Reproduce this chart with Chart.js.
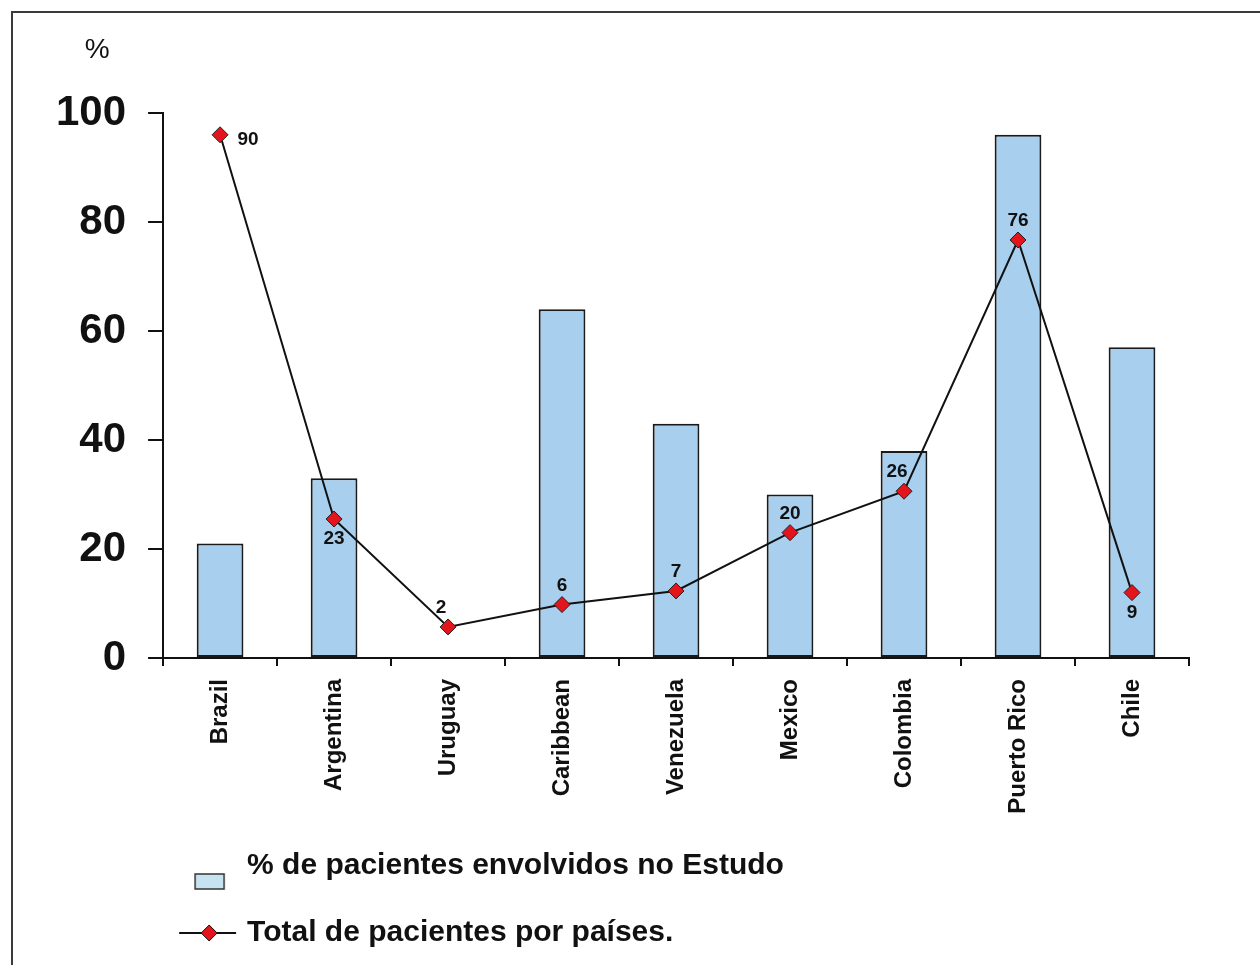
<!DOCTYPE html>
<html lang="pt">
<head>
<meta charset="utf-8">
<title>Pacientes por países</title>
<script src="https://cdn.jsdelivr.net/npm/chart.js@4.4.1/dist/chart.umd.min.js"></script>
<style>
  html, body { margin: 0; padding: 0; background: #fff; overflow: hidden; }
  #marco { position: absolute; left: 11px; top: 11px; width: 1400px; height: 1100px;
           border-top: 2px solid #3a3a3a; border-left: 2px solid #3a3a3a; }
  #grafico { position: absolute; left: 0; top: 0; }
</style>
</head>
<body>
<div id="marco"></div>
<canvas id="grafico" width="1260" height="965"></canvas>
<script>
// Datos del gráfico
const paises = ['Brazil', 'Argentina', 'Uruguay', 'Caribbean', 'Venezuela', 'Mexico', 'Colombia', 'Puerto Rico', 'Chile'];
// % de pacientes envolvidos no Estudo (barras)
const pctPacientes = [21, 33, 0, 64, 43, 30, 38, 96, 57];
// Total de pacientes por países (línea): altura del punto y número que se escribe
const totalPacientes = [96, 25.5, 5.7, 9.8, 12.3, 23, 30.6, 76.7, 12];
const totalEtiquetas = ['90', '23', '2', '6', '7', '20', '26', '76', '9'];
const ticksY = [0, 20, 40, 60, 80, 100];

const leyendaBarras = '% de pacientes envolvidos no Estudo';
const leyendaLinea = 'Total de pacientes por países.';

// Dónde va cada número respecto a su punto
const posEtiquetas = ['derecha', 'abajo', 'arribaIzq', 'arriba', 'arriba', 'arriba', 'arribaIzq', 'arriba', 'abajo'];
const desplazamientos = {
    derecha: [28, 5],
    abajo: [0, 20],
    arriba: [0, -19],
    arribaIzq: [-7, -19]
};

const fuente = '"Liberation Sans", Arial, Helvetica, sans-serif';
const colorTexto = '#111';
const colorBarra = '#a8cfee';
const colorRombo = '#e3141b';

// Imágenes pequeñas para la leyenda (cuadro celeste y línea con rombo)
function crearCuadro() {
    const c = document.createElement('canvas');
    c.width = 80; c.height = 64;
    const g = c.getContext('2d');
    g.fillStyle = '#c6e4f0';
    g.strokeStyle = '#333';
    g.lineWidth = 1.5;
    g.fillRect(19, 40, 29, 15);
    g.strokeRect(19, 40, 29, 15);
    return c;
}

function crearLinea() {
    const c = document.createElement('canvas');
    c.width = 80; c.height = 64;
    const g = c.getContext('2d');
    g.strokeStyle = '#111';
    g.lineWidth = 2;
    g.beginPath();
    g.moveTo(3, 32);
    g.lineTo(60, 32);
    g.stroke();
    g.fillStyle = colorRombo;
    g.lineWidth = 1;
    g.beginPath();
    g.moveTo(25, 32); g.lineTo(33, 24); g.lineTo(41, 32); g.lineTo(33, 40);
    g.closePath();
    g.fill();
    g.stroke();
    return c;
}

// Plugin: números sobre los puntos y el "%" del eje
const etiquetasPlugin = {
    id: 'etiquetas',
    afterDatasetsDraw(chart) {
        const ctx = chart.ctx;
        const meta = chart.getDatasetMeta(1);
        ctx.save();
        ctx.fillStyle = colorTexto;
        ctx.textAlign = 'center';
        ctx.textBaseline = 'middle';
        ctx.font = 'bold 19px ' + fuente;
        meta.data.forEach((punto, i) => {
            const d = desplazamientos[posEtiquetas[i]];
            ctx.fillText(totalEtiquetas[i], punto.x + d[0], punto.y + d[1]);
        });
        const area = chart.chartArea;
        ctx.font = '28px ' + fuente;
        ctx.fillText('%', area.left - 66, area.top - 63);
        ctx.restore();
    }
};

const imgCuadro = crearCuadro();
const imgLinea = crearLinea();

new Chart(document.getElementById('grafico'), {
    type: 'bar',
    data: {
        labels: paises,
        datasets: [{
            type: 'bar',
            label: leyendaBarras,
            data: pctPacientes,
            backgroundColor: colorBarra,
            borderColor: '#1a1a1a',
            borderWidth: 2,
            borderSkipped: false,
            barPercentage: 0.41,
            categoryPercentage: 1,
            order: 1
        }, {
            type: 'line',
            label: leyendaLinea,
            data: totalPacientes,
            borderColor: '#111',
            borderWidth: 2,
            tension: 0,
            pointStyle: 'rectRot',
            pointRadius: 8,
            pointBackgroundColor: colorRombo,
            pointBorderColor: '#222',
            pointBorderWidth: 1,
            order: 0
        }]
    },
    options: {
        responsive: false,
        animation: false,
        layout: { padding: { top: 113, left: 34, right: 71, bottom: 7 } },
        plugins: {
            tooltip: { enabled: false },
            legend: {
                position: 'bottom',
                align: 'start',
                fullSize: false,
                labels: {
                    usePointStyle: true,
                    pointStyleWidth: 32,
                    padding: 37,
                    color: colorTexto,
                    font: { family: fuente, size: 30, weight: 'bold' },
                    generateLabels: () => [
                        { text: leyendaBarras, pointStyle: imgCuadro, datasetIndex: 0, hidden: false, lineWidth: 0, fontColor: colorTexto },
                        { text: leyendaLinea, pointStyle: imgLinea, datasetIndex: 1, hidden: false, lineWidth: 0, fontColor: colorTexto }
                    ]
                }
            }
        },
        scales: {
            x: {
                offset: true,
                grid: { offset: true, drawOnChartArea: false, tickLength: 8, color: '#111', lineWidth: 2 },
                border: { color: '#111', width: 2 },
                ticks: {
                    autoSkip: false,
                    minRotation: 90,
                    maxRotation: 90,
                    padding: 13,
                    color: colorTexto,
                    font: { family: fuente, size: 24, weight: 'bold' }
                },
                afterFit: (escala) => { escala.height = 156; }
            },
            y: {
                min: 0,
                max: 100,
                afterBuildTicks: (escala) => { escala.ticks = ticksY.map(v => ({ value: v })); },
                grid: { drawOnChartArea: false, tickLength: 15, color: '#111', lineWidth: 2 },
                border: { color: '#111', width: 2 },
                ticks: {
                    padding: 22,
                    color: colorTexto,
                    font: { family: fuente, size: 42, weight: 'bold' }
                }
            }
        }
    },
    plugins: [etiquetasPlugin]
});
</script>
</body>
</html>
